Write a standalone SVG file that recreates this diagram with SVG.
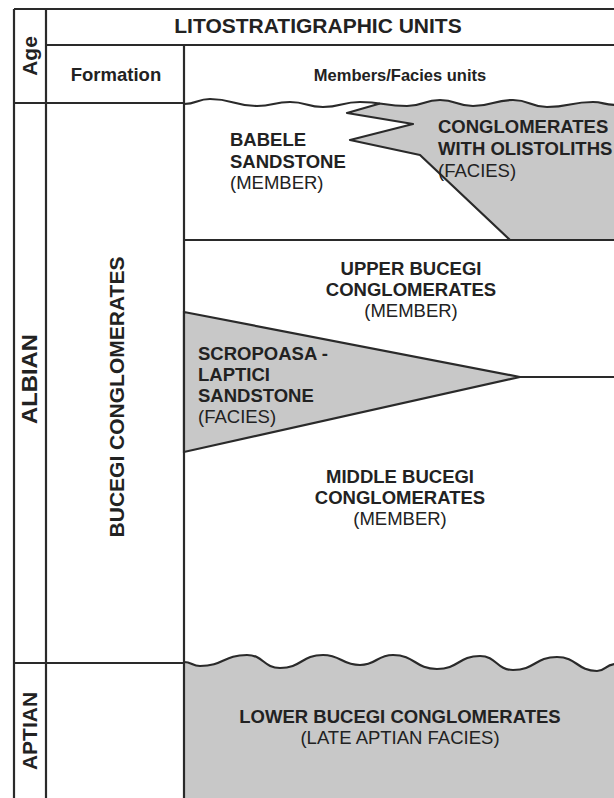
<svg xmlns="http://www.w3.org/2000/svg" width="614" height="798" viewBox="0 0 614 798">
<style>
.ln{fill:none;stroke:#2a2a2a;stroke-width:2.2;stroke-linejoin:round}
.gf{fill:#c8c8c8;stroke:none}
.gs{fill:#c8c8c8;stroke:#2a2a2a;stroke-width:2.2;stroke-linejoin:miter}
text{font-family:"Liberation Sans",Arial,sans-serif;fill:#222}
.b{font-weight:bold}
.t21{font-size:21px}
.t18{font-size:18.5px}
.m{text-anchor:middle}
</style>
<rect x="0" y="0" width="614" height="798" fill="#ffffff"/>

<g id="fills">
  <path id="lower-fill" class="gf" d="M184,662 C192,662 192,666 200,666 C223.5,666 223.5,655 247,655 C263.5,655 263.5,668 280,668 C301.5,668 301.5,655 323,655 C341.5,655 341.5,665 360,665 C376.5,665 376.5,655 393,655 C415,655 415,669 437,669 C458.5,669 458.5,656 480,656 C496.5,656 496.5,670 513,670 C535,670 535,657 557,657 C577,657 577,671 597,671 C605.5,671 605.5,664 616,664 L616,800 L184,800 Z"/>
  <path id="olisto-fill" class="gf" d="M380,103.5 C393,104.5 398,106 407,106 C423.5,106 423.5,100 440,100 C456.5,100 456.5,106 473,106 C493,106 493,100 513,100 C530,100 530,107 547,107 C570,107 570,102 593,102 C603.5,102 603.5,105 616,105 L616,240 L510,240 L420,155 L350,140 L413,124 L347,113 Z"/>
</g>

<g id="boundaries">
  <line class="ln" x1="14" y1="9" x2="616" y2="9"/>
  <line class="ln" x1="14" y1="9" x2="14" y2="800"/>
  <line class="ln" x1="46" y1="9" x2="46" y2="800"/>
  <line class="ln" x1="46" y1="45" x2="616" y2="45"/>
  <line class="ln" x1="184" y1="45" x2="184" y2="800"/>
  <line class="ln" x1="14" y1="103" x2="184" y2="103"/>
  <line class="ln" x1="14" y1="663" x2="184" y2="663"/>
  <path id="top-wavy" class="ln" d="M184,104 C197,104 197,99 210,99 C233.5,99 233.5,106 257,106 C273.5,106 273.5,102 290,102 C306.5,102 306.5,107 323,107 C341.5,107 341.5,102 360,102 C383.5,102 383.5,106 407,106 C423.5,106 423.5,100 440,100 C456.5,100 456.5,106 473,106 C493,106 493,100 513,100 C530,100 530,107 547,107 C570,107 570,102 593,102 C603.5,102 603.5,105 616,105"/>
  <polyline id="olisto-edge" class="ln" points="380,103.5 347,113 413,124 350,140 420,155 510,240"/>
  <line class="ln" x1="184" y1="240" x2="616" y2="240"/>
  <line class="ln" x1="520" y1="377" x2="616" y2="377"/>
  <path id="bottom-wavy" class="ln" d="M184,662 C192,662 192,666 200,666 C223.5,666 223.5,655 247,655 C263.5,655 263.5,668 280,668 C301.5,668 301.5,655 323,655 C341.5,655 341.5,665 360,665 C376.5,665 376.5,655 393,655 C415,655 415,669 437,669 C458.5,669 458.5,656 480,656 C496.5,656 496.5,670 513,670 C535,670 535,657 557,657 C577,657 577,671 597,671 C605.5,671 605.5,664 616,664"/>
</g>

<g id="header">
  <text class="b t21 m" x="318" y="33">LITOSTRATIGRAPHIC UNITS</text>
  <text class="b t21 m" transform="translate(37,56) rotate(-90)">Age</text>
  <text class="b t18 m" x="116" y="81">Formation</text>
  <text class="b m" style="font-size:16.5px" x="400" y="81">Members/Facies units</text>
</g>

<g id="age-albian">
  <text class="b m" style="font-size:22px" transform="translate(37,379) rotate(-90)" textLength="90" lengthAdjust="spacingAndGlyphs">ALBIAN</text>
</g>
<g id="age-aptian">
  <text class="b t21 m" transform="translate(37,731) rotate(-90)">APTIAN</text>
</g>
<g id="formation-bucegi">
  <text class="b t21 m" transform="translate(124,397) rotate(-90)">BUCEGI CONGLOMERATES</text>
</g>

<g id="babele">
  <text class="t18"><tspan class="b" x="230" y="146">BABELE</tspan><tspan class="b" x="230" y="168">SANDSTONE</tspan><tspan x="230" y="189">(MEMBER)</tspan></text>
</g>

<g id="olistoliths">
  <text class="t18"><tspan class="b" x="438" y="133">CONGLOMERATES</tspan><tspan class="b" x="438" y="155">WITH OLISTOLITHS</tspan><tspan x="438" y="177">(FACIES)</tspan></text>
</g>

<g id="upper-bucegi">
  <text class="t18 m"><tspan class="b" x="411" y="275">UPPER BUCEGI</tspan><tspan class="b" x="411" y="296">CONGLOMERATES</tspan><tspan x="411" y="317">(MEMBER)</tspan></text>
</g>

<g id="scropoasa">
  <polygon class="gs" points="184,312 520,377 184,452"/>
  <text class="t18"><tspan class="b" x="198" y="360">SCROPOASA -</tspan><tspan class="b" x="198" y="381">LAPTICI</tspan><tspan class="b" x="198" y="402">SANDSTONE</tspan><tspan x="198" y="423">(FACIES)</tspan></text>
</g>

<g id="middle-bucegi">
  <text class="t18 m"><tspan class="b" x="400" y="483">MIDDLE BUCEGI</tspan><tspan class="b" x="400" y="504">CONGLOMERATES</tspan><tspan x="400" y="525">(MEMBER)</tspan></text>
</g>

<g id="lower-bucegi">
  <text class="t18 m"><tspan class="b" x="400" y="723">LOWER BUCEGI CONGLOMERATES</tspan><tspan x="400" y="744">(LATE APTIAN FACIES)</tspan></text>
</g>
</svg>
